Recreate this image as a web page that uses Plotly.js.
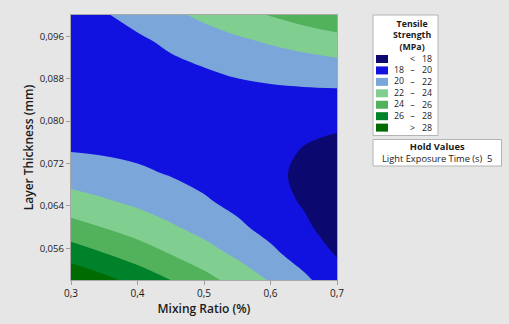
<!DOCTYPE html>
<html>
<head>
<meta charset="utf-8">
<script src="https://cdn.plot.ly/plotly-3.0.1.min.js"></script>
<style>html,body{margin:0;padding:0;background:#e6e6e6;}#chart{width:509px;height:324px;}</style>
</head>
<body>
<div id="chart"></div>
<script>
// ---- data ----
const mixingRatio = [0.30, 0.35, 0.40, 0.45, 0.50, 0.55, 0.60, 0.65, 0.70];
const layerThickness = [0.050, 0.055, 0.060, 0.065, 0.070, 0.075, 0.080, 0.085, 0.090, 0.095, 0.100];
const tensileStrength = [
  [29.73, 28.53, 27.28, 25.99, 24.66, 23.27, 21.85, 20.38, 18.86],
  [27.04, 26.05, 25.01, 23.93, 22.80, 21.63, 20.41, 19.15, 17.85],
  [24.70, 23.92, 23.10, 22.23, 21.31, 20.35, 19.35, 18.30, 17.21],
  [22.71, 22.15, 21.54, 20.88, 20.19, 19.44, 18.65, 17.82, 16.94],
  [21.07, 20.73, 20.34, 19.90, 19.42, 18.89, 18.32, 17.71, 17.05],
  [19.78, 19.66, 19.49, 19.27, 19.02, 18.71, 18.36, 17.97, 17.53],
  [18.84, 18.94, 19.00, 19.01, 18.97, 18.89, 18.77, 18.60, 18.39],
  [18.25, 18.58, 18.86, 19.10, 19.29, 19.44, 19.55, 19.61, 19.62],
  [18.10, 18.57, 19.08, 19.55, 19.98, 20.36, 20.69, 20.98, 21.23],
  [18.11, 18.91, 19.66, 20.36, 21.02, 21.63, 22.20, 22.73, 23.21],
  [18.57, 19.85, 20.65, 21.55, 22.43, 23.28, 24.10, 24.84, 25.56]
];
const bandLow  = [null, 18, 20, 22, 24, 26, 28];
const bandHigh = [18, 20, 22, 24, 26, 28, null];
const bandColors = ['#0b0970', '#1212e0', '#7ba6da', '#80cf91', '#52b25c', '#00822a', '#006b00'];
const xTicks = [0.3, 0.4, 0.5, 0.6, 0.7];
const legendTitle = ['Tensile', 'Strength', '(MPa)'];
const holdTitle = 'Hold Values';
const holdLabel = 'Light Exposure Time (s)';
const holdValue = '5';

// ---- layout helpers (pixel -> paper) ----
const L = 71, R = 337, T = 15, B = 280;
const PX = x => (x - L) / (R - L);
const PY = y => (B - y) / (B - T);

// stepped colorscale: band centres 17,19,...,29 mapped to 0..1
const n = bandColors.length;
const cs = [];
bandColors.forEach((c, i) => {
  const a = i === 0 ? 0 : (i - 0.5) / (n - 1);
  const b = i === n - 1 ? 1 : (i + 0.5) / (n - 1);
  cs.push([a, c]); cs.push([b, c]);
});

const trace = {
  type: 'contour',
  x: mixingRatio, y: layerThickness, z: tensileStrength,
  zmin: 17, zmax: 29, zauto: false,
  colorscale: cs, showscale: false,
  contours: {start: 18, end: 28, size: 2, coloring: 'fill'},
  line: {width: 0, smoothing: 1},
  hoverinfo: 'skip'
};

const font = 'Open Sans, Noto Sans, sans-serif';
const txt = '#1a1a1a';
const LS = 8.8;   // legend font size (line spacing 1.3em = 11.44 px)
const shapes = [], ann = [];
function label(x, y, text, xanchor, align, size, weight) {
  ann.push({xref: 'paper', yref: 'paper', x: PX(x), y: PY(y), text: text, showarrow: false,
    xanchor: xanchor, yanchor: 'middle', align: align, borderpad: 0,
    font: {family: font, size: size, color: txt, weight: weight || 'normal'}});
}

// legend box
shapes.push({type: 'rect', xref: 'paper', yref: 'paper', x0: PX(373), x1: PX(438), y0: PY(15), y1: PY(135.5),
  fillcolor: '#ffffff', line: {color: '#b4b4b4', width: 1}, layer: 'above'});
label(411.5, 35, legendTitle.join('<br>'), 'center', 'center', LS, 'bold');

const rowStep = 1.3 * LS, rowMid = 93.3;
const lows = [], syms = [], highs = [];
bandColors.forEach((c, i) => {
  const y = rowMid + (i - 3) * rowStep;
  shapes.push({type: 'rect', xref: 'paper', yref: 'paper', x0: PX(376), x1: PX(388), y0: PY(y + 4), y1: PY(y - 4),
    fillcolor: c, line: {width: 0}, layer: 'above'});
  if (bandLow[i] === null) { syms.push('&lt;'); highs.push(bandHigh[i]); }
  else if (bandHigh[i] === null) { syms.push('&gt;'); highs.push(bandLow[i]); }
  else { syms.push('–'); highs.push(bandHigh[i]); lows.push(bandLow[i]); }
});
label(398.5, rowMid, lows.join('<br>'), 'center', 'center', LS);
label(412.7, rowMid, syms.join('<br>'), 'center', 'center', LS);
label(433, rowMid, highs.join('<br>'), 'right', 'right', LS);

// hold values box
shapes.push({type: 'rect', xref: 'paper', yref: 'paper', x0: PX(373), x1: PX(501.5), y0: PY(139.5), y1: PY(166),
  fillcolor: '#ffffff', line: {color: '#b4b4b4', width: 1}, layer: 'above'});
label(437.3, 152.8, '<b>' + holdTitle + '</b><br>' + holdLabel + '\u00a0\u00a0' + holdValue, 'center', 'center', 9.3);

const layout = {
  width: 509, height: 324,
  margin: {l: L, r: 509 - R, t: T, b: 324 - B, pad: 0},
  paper_bgcolor: '#e6e6e6', plot_bgcolor: '#e6e6e6',
  separators: ',.',
  font: {family: font, size: 10, color: txt},
  showlegend: false,
  xaxis: {
    range: [0.3, 0.7], tickvals: xTicks, tickformat: '.1f',
    ticks: 'outside', ticklen: 4, tickcolor: '#a0a0a0',
    showline: true, linecolor: '#a8a8a8', mirror: true, showgrid: false, zeroline: false,
    tickfont: {family: font, size: 10, color: txt},
    title: {text: 'Mixing Ratio (%)', font: {family: font, size: 12, color: txt, weight: 600}, standoff: 3}
  },
  yaxis: {
    range: [0.05, 0.1], tick0: 0, dtick: 0.008, tickformat: '.3f',
    ticks: 'outside', ticklen: 4, tickcolor: '#a0a0a0',
    showline: true, linecolor: '#a8a8a8', mirror: true, showgrid: false, zeroline: false,
    tickfont: {family: font, size: 9.6, color: txt},
    title: {text: 'Layer Thickness (mm)', font: {family: font, size: 12, color: txt, weight: 600}, standoff: 3}
  },
  shapes: shapes,
  annotations: ann
};

Plotly.newPlot('chart', [trace], layout, {staticPlot: true, displayModeBar: false});
</script>
</body>
</html>
